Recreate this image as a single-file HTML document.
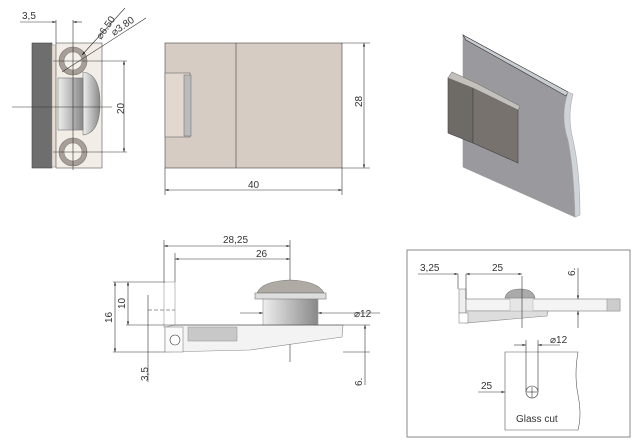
<!DOCTYPE html>
<html><head><style>
html,body{margin:0;padding:0;background:#fff;}
svg{display:block;font-family:"Liberation Sans",sans-serif;}
text{fill:#333;font-size:10px;}
</style></head><body>
<svg width="640" height="446" viewBox="0 0 640 446" xmlns="http://www.w3.org/2000/svg">
<defs>
<linearGradient id="cyl" x1="0" y1="0" x2="0" y2="1"><stop offset="0" stop-color="#e4e4e4"/><stop offset=".5" stop-color="#a0a0a0"/><stop offset="1" stop-color="#666"/></linearGradient>
<linearGradient id="cylh" x1="0" y1="0" x2="1" y2="0"><stop offset="0" stop-color="#eee"/><stop offset=".5" stop-color="#bbb"/><stop offset="1" stop-color="#888"/></linearGradient>
<marker id="a" viewBox="0 0 10 10" refX="10" refY="5" markerWidth="6" markerHeight="6" orient="auto-start-reverse"><path d="M0,2 L10,5 L0,8z" fill="#222"/></marker>
</defs>
<g stroke="#333" stroke-width="0.6" fill="none">
<!-- front view -->
<rect x="32" y="43" width="20" height="125" fill="#6e6e6e" stroke="#444"/>
<rect x="52" y="45" width="4" height="122" fill="#e8ddd2" stroke="#999"/>
<rect x="56" y="43" width="46" height="125" fill="#f2ede6" stroke="#555"/>
<circle cx="73" cy="61" r="14" fill="#a89e98" stroke="#777"/>
<circle cx="73" cy="61" r="9" fill="#f4f0ea" stroke="#888"/>
<circle cx="73" cy="152" r="14" fill="#a89e98" stroke="#777"/>
<circle cx="73" cy="152" r="9" fill="#f4f0ea" stroke="#888"/>
<path d="M83,72 Q100,74 100,103 Q100,133 83,135z" fill="url(#cylh)" stroke="#777"/>
<rect x="58" y="78" width="25" height="52" fill="url(#cylh)" stroke="#777"/>
<line x1="12" y1="107" x2="112" y2="107"/>
<line x1="73" y1="20" x2="73" y2="170"/>
<line x1="56" y1="20" x2="56" y2="43"/>
<line x1="53" y1="61" x2="127" y2="61"/>
<line x1="53" y1="152" x2="127" y2="152"/>
<line x1="124" y1="61" x2="124" y2="152" marker-start="url(#a)" marker-end="url(#a)"/>
<line x1="20" y1="22" x2="56" y2="22" marker-end="url(#a)"/>
<line x1="82" y1="22" x2="73" y2="22" marker-end="url(#a)"/>
<line x1="125" y1="8" x2="82" y2="55" marker-end="url(#a)"/>
<line x1="146" y1="18" x2="62" y2="72"/>
<!-- top view -->
<rect x="165" y="43" width="177" height="125" fill="#d7ccc4" stroke="#444"/>
<line x1="236" y1="43" x2="236" y2="168" stroke="#444"/>
<rect x="165" y="73" width="25" height="64" fill="#e2d8d0" stroke="#666"/>
<rect x="184" y="75" width="7" height="61" fill="#bbb" stroke="#777"/>
<line x1="342" y1="43" x2="370" y2="43"/>
<line x1="342" y1="168" x2="370" y2="168"/>
<line x1="364" y1="43" x2="364" y2="168" marker-start="url(#a)" marker-end="url(#a)"/>
<line x1="165" y1="168" x2="165" y2="195"/>
<line x1="342" y1="168" x2="342" y2="195"/>
<line x1="165" y1="190" x2="342" y2="190" marker-start="url(#a)" marker-end="url(#a)"/>
<!-- 3D -->
<path d="M463,35 L568,92 Q560,117 568,140 Q574,170 575,217 L463,167z" fill="#9a9a9e" stroke="#999"/>
<path d="M463,35 L568,92 L566,96 L466,40z" fill="#c8cdd2"/>
<path d="M568,92 Q560,117 568,140 Q574,170 575,217 L580,215 Q580,170 573,140 Q567,117 573,94z" fill="#cfd4d8" stroke="#aaa"/>
<path d="M448,78 L473,88 L473,143 L448,133z" fill="#6e6a66" stroke="#444"/>
<path d="M473,88 L518,110 L518,163 L473,143z" fill="#77726d" stroke="#444"/>
<path d="M448,78 L452,72 L478,84 L520,106 L518,110 L473,88z" fill="#c4c0bc" stroke="#777"/>
<!-- side view -->
<line x1="164" y1="240" x2="164" y2="282"/>
<line x1="175" y1="253" x2="175" y2="282"/>
<line x1="290" y1="240" x2="290" y2="362"/>
<line x1="164" y1="246" x2="290" y2="246" marker-start="url(#a)" marker-end="url(#a)"/>
<line x1="175" y1="259" x2="290" y2="259" marker-start="url(#a)" marker-end="url(#a)"/>
<rect x="164" y="282" width="11" height="45" fill="#fff" stroke="#999"/>
<path d="M175,325 L343,325 L342,337 L250,350 L165,352 L165,327z" fill="#f3f3f3" stroke="#888"/>
<rect x="188" y="327" width="49" height="14" fill="#c8c8c8" stroke="#999"/>
<rect x="165" y="327" width="18" height="25" fill="#fafafa" stroke="#888"/>
<circle cx="175" cy="340" r="5" fill="#fff"/>
<rect x="263" y="298" width="55" height="27" fill="url(#cylh)" stroke="#999"/>
<path d="M257,293 Q262,281 290,280 Q318,281 324,293z" fill="#b0aaa4" stroke="#777"/>
<rect x="255" y="293" width="71" height="6" fill="#ddd" stroke="#777"/>
<line x1="113" y1="282" x2="165" y2="282"/>
<line x1="113" y1="352" x2="165" y2="352"/>
<line x1="115" y1="282" x2="115" y2="352" marker-start="url(#a)" marker-end="url(#a)"/>
<line x1="128" y1="282" x2="128" y2="325" marker-start="url(#a)" marker-end="url(#a)"/>
<line x1="126" y1="325" x2="370" y2="325"/>
<line x1="148" y1="295" x2="148" y2="382"/>
<line x1="148" y1="310" x2="175" y2="310" stroke-dasharray="4 2"/>
<line x1="240" y1="313" x2="263" y2="313" marker-end="url(#a)"/>
<line x1="380" y1="313" x2="318" y2="313" marker-end="url(#a)"/>
<line x1="343" y1="352" x2="370" y2="352"/>
<line x1="365" y1="325" x2="365" y2="385" marker-start="url(#a)"/>
<!-- box -->
<rect x="407" y="250" width="223" height="187" stroke="#888" stroke-width="1"/>
<rect x="459" y="289" width="7" height="24" fill="#eee" stroke="#888"/>
<rect x="466" y="299" width="154" height="12" fill="#f4f4f4" stroke="#777"/>
<rect x="607" y="299" width="13" height="12" fill="#ccc" stroke="#999"/>
<path d="M466,311 L548,311 L547,316 L466,323z" fill="#ddd" stroke="#888"/>
<rect x="459" y="313" width="9" height="10" fill="#fff" stroke="#888"/>
<rect x="510" y="298" width="23" height="13" fill="#e6e6e6" stroke="#bbb"/>
<path d="M505,298 Q507,289 520,289 Q533,289 535,298z" fill="#aaa" stroke="#777"/>
<line x1="522" y1="276" x2="522" y2="328"/>
<line x1="458" y1="274" x2="458" y2="289"/>
<line x1="466" y1="274" x2="466" y2="299"/>
<line x1="418" y1="274" x2="458" y2="274" marker-end="url(#a)"/>
<line x1="466" y1="274" x2="522" y2="274" marker-start="url(#a)" marker-end="url(#a)"/>
<line x1="578" y1="268" x2="578" y2="299" marker-end="url(#a)"/>
<line x1="578" y1="328" x2="578" y2="311" marker-end="url(#a)"/>
<path d="M505,352 L578,352 Q574,375 578,395 Q582,415 578,430 L505,430z" fill="#fff" stroke="#555"/>
<circle cx="532" cy="392" r="6" fill="#fff"/>
<line x1="526" y1="340" x2="526" y2="392"/>
<line x1="538" y1="340" x2="538" y2="392"/>
<line x1="514" y1="345" x2="526" y2="345" marker-end="url(#a)"/>
<line x1="560" y1="345" x2="538" y2="345" marker-end="url(#a)"/>
<line x1="478" y1="392" x2="505" y2="392" marker-end="url(#a)"/>
<line x1="527" y1="392" x2="537" y2="392"/><line x1="532" y1="387" x2="532" y2="398"/>
</g>
<text x="22" y="19">3,5</text>
<text x="0" y="0" transform="translate(101,40) rotate(-55)">⌀6.50</text>
<text x="0" y="0" transform="translate(114,36) rotate(-35)">⌀3.80</text>
<text x="0" y="0" transform="translate(124,114) rotate(-90)" font-size="11">20</text>
<text x="0" y="0" transform="translate(362,107) rotate(-90)" font-size="11">28</text>
<text x="248" y="188" font-size="11">40</text>
<text x="223" y="243" font-size="11">28,25</text>
<text x="256" y="257" font-size="11">26</text>
<text x="0" y="0" transform="translate(112,323) rotate(-90)" font-size="11">16</text>
<text x="0" y="0" transform="translate(125,309) rotate(-90)" font-size="11">10</text>
<text x="0" y="0" transform="translate(148,381) rotate(-90)" font-size="11">3,5</text>
<text x="0" y="0" transform="translate(362,386) rotate(-90)" font-size="11">6.</text>
<text x="354" y="317" font-size="11">⌀12</text>
<text x="420" y="271">3,25</text>
<text x="492" y="271" font-size="11">25</text>
<text x="0" y="0" transform="translate(575,276) rotate(-90)">6.</text>
<text x="550" y="343">⌀12</text>
<text x="481" y="389">25</text>
<text x="516" y="422">Glass cut</text>
</svg>
</body></html>
